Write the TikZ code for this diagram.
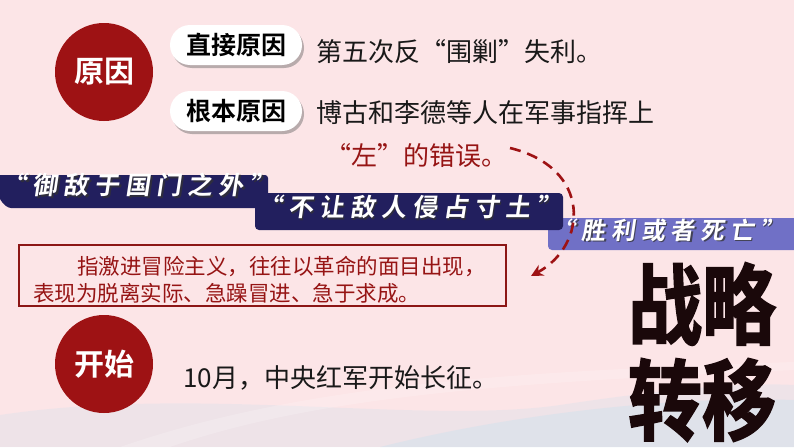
\documentclass[tikz,border=0pt]{standalone}
\usepackage{fontspec}
\setmainfont{Noto Sans CJK SC}[BoldFont={Noto Sans CJK SC Bold}]
\newfontfamily\heavyfont{Noto Sans CJK SC Bold}[FakeBold=2, FakeStretch=0.84]
\newfontfamily\brushfont{Noto Sans CJK SC Bold}[FakeSlant=0.15, LetterSpace=24]
\usetikzlibrary{shadows,arrows.meta}
\definecolor{bgpink}{RGB}{252,229,231}
\definecolor{darkred}{RGB}{158,18,20}
\definecolor{boxred}{RGB}{140,22,22}
\definecolor{txtred}{RGB}{150,20,20}
\definecolor{navy}{RGB}{34,31,94}
\definecolor{lilac}{RGB}{112,112,198}
\definecolor{wave}{RGB}{214,226,236}
\definecolor{ink}{RGB}{26,8,10}
\tikzset{
  circlabel/.style={circle, fill=darkred, minimum size=98pt, inner sep=0pt, text=white,
    font=\bfseries\fontsize{30}{30}\selectfont},
  pill/.style={rounded corners=20pt, fill=white, minimum width=132pt, minimum height=40pt,
    inner sep=0pt, font=\bfseries\fontsize{25}{25}\selectfont,
    drop shadow={shadow xshift=2pt, shadow yshift=-3pt, opacity=0.45, fill=black!60}},
  body/.style={anchor=west, inner sep=0pt, font=\fontsize{26}{26}\selectfont, text=black!90},
  redtxt/.style={anchor=west, inner sep=0pt, font=\fontsize{21.5}{21.5}\selectfont, text=txtred},
  bannertxt/.style={inner sep=0pt, text=white, font=\brushfont\fontsize{25}{25}\selectfont},
  bannershadow/.style={bannertxt, text=black!80, opacity=0.75},
  bigtxt/.style={inner sep=0pt, text=ink, font=\heavyfont\fontsize{88}{88}\selectfont},
  dasharrow/.style={draw=darkred, line width=2.6pt, dash pattern=on 11pt off 7pt, -{Stealth[length=12pt,width=12pt]}}
}
\begin{document}
\begin{tikzpicture}[x=1pt,y=-1pt]
\useasboundingbox (0,0) rectangle (794,447);
\fill[bgpink] (0,0) rectangle (794,447);
% soft waves at the bottom
\fill[wave, opacity=0.35] (0,447) -- (0,415) .. controls (200,385) and (420,425) .. (560,405)
  .. controls (660,390) and (740,382) .. (794,385) -- (794,447) -- cycle;
\fill[white, opacity=0.18] (120,447) .. controls (300,385) and (500,372) .. (794,362)
  -- (794,370) .. controls (520,382) and (320,395) .. (170,447) -- cycle;
\fill[wave, opacity=0.6] (380,447) .. controls (520,412) and (680,396) .. (794,400) -- (794,447) -- cycle;

% circles
\node[circlabel] (yuanyin) at (104,72) {原因};
\node[circlabel] (kaishi) at (104,364) {开始};

% pills
\node[pill] (zhijie) at (236,45) {直接原因};
\node[pill] (genben) at (236,111) {根本原因};

% texts
\node[body] (t1) at (316,52) {第五次反“围剿”失利。};
\node[body] (t2) at (316,113) {博古和李德等人在军事指挥上};
\node[body, text=txtred] (t3) at (325,156) {“左”的错误。};
\node[body] (t4) at (183,378) {10月，中央红军开始长征。};

% banners
\fill[lilac, rounded corners=4pt] (548,218) rectangle (800,250);
\fill[navy, rounded corners=4pt] (255,193) rectangle (563,230);
\fill[navy, rounded corners=3pt] (-5,175) -- (268,175) -- (268,208) -- (8,208) -- (0,200) -- cycle;
\node[bannershadow] (b1s) at (139.5,186.5) {“御敌于国门之外”};
\node[bannershadow] (b2s) at (410.5,208.5) {“不让敌人侵占寸土”};
\node[bannershadow, font=\brushfont\fontsize{24}{24}\selectfont] (b3s) at (669.5,231.5) {“胜利或者死亡”};
\node[bannertxt] (b1) at (138,185) {“御敌于国门之外”};
\node[bannertxt] (b2) at (409,207) {“不让敌人侵占寸土”};
\node[bannertxt, font=\brushfont\fontsize{24}{24}\selectfont] (b3) at (668,230) {“胜利或者死亡”};

% red box
\node[draw=boxred, line width=1.6pt, anchor=north west, minimum width=487pt, minimum height=61pt, inner sep=0pt] (box) at (18,244) {};
\node[redtxt] (r1) at (77,266) {指激进冒险主义，往往以革命的面目出现，};
\node[redtxt] (r2) at (33,293) {表现为脱离实际、急躁冒进、急于求成。};

% dashed arrow
\coordinate (as) at (510,148);
\coordinate (ae) at (531,276);
\draw[dasharrow] (as) .. controls (592,168) and (588,245) .. (ae);

% big title
\node[bigtxt] (zl) at (702,304) {战略};
\node[bigtxt] (zy) at (702,400) {转移};
\end{tikzpicture}
\end{document}
